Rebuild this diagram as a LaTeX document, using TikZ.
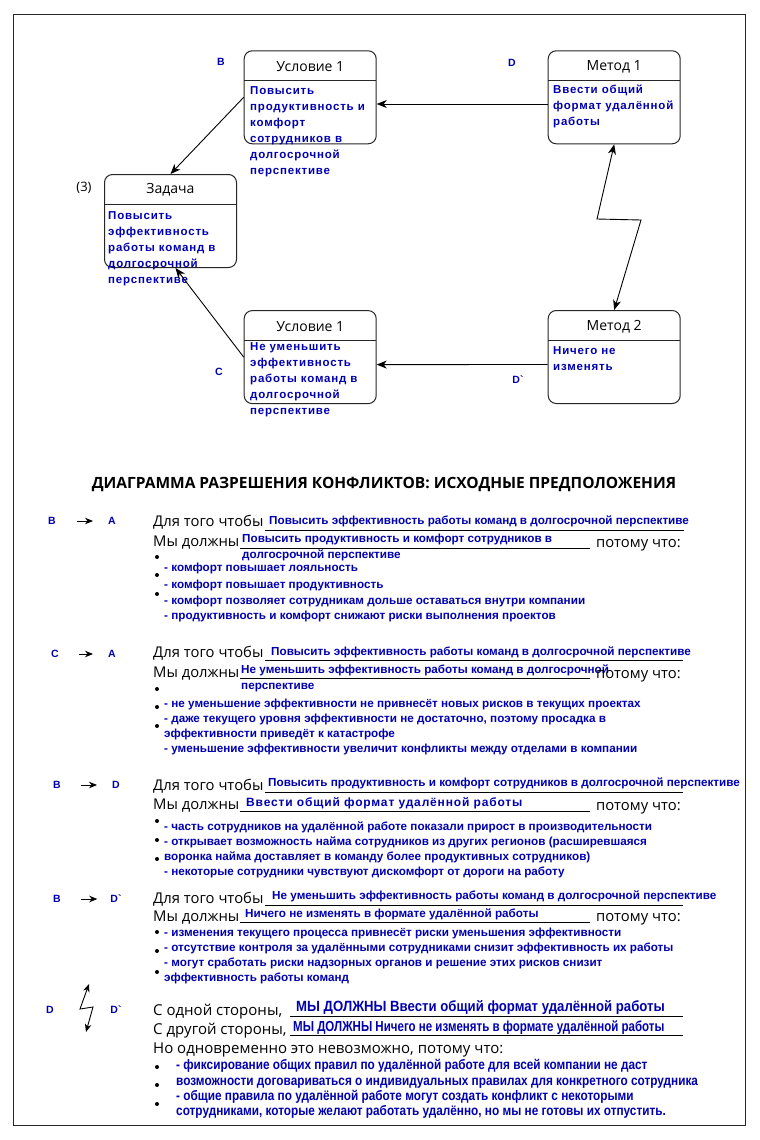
\documentclass[tikz,border=0pt]{standalone}
\usepackage{fontspec}
\usetikzlibrary{arrows.meta}
\setmainfont{Open Sans}
\newfontfamily\blfont{Liberation Sans}
\newfontfamily\blspfont[LetterSpace=7]{Liberation Sans}
\newfontfamily\blnarfont[FakeStretch=0.89]{Liberation Sans}
\newfontfamily\blnarsfont[FakeStretch=0.795]{Liberation Sans}
\newfontfamily\blnarrfont[FakeStretch=0.855]{Liberation Sans}
\definecolor{bl}{RGB}{0,0,175}
\tikzset{
  box/.style={draw=black!85, line width=1pt, rounded corners=8pt, minimum width=132pt, minimum height=93pt, inner sep=0pt},
  divl/.style={draw=black!85, line width=1pt},
  boxtitle/.style={font=\fontsize{14}{16}\selectfont, inner sep=0pt},
  boxtext/.style={text=bl, font=\blspfont\bfseries\fontsize{11.5}{16}\selectfont, align=left, anchor=north west, inner sep=0pt},
  lbl/.style={text=bl, font=\blfont\bfseries\fontsize{10.5}{12}\selectfont, inner sep=0pt},
  blk/.style={font=\fontsize{14.8}{17}\selectfont, anchor=base west, inner sep=0pt},
  blkb/.style={font=\fontsize{15}{17}\selectfont, anchor=base west, inner sep=0pt},
  bt/.style={text=bl, font=\blfont\bfseries\fontsize{11.7}{14}\selectfont, anchor=base west, inner sep=0pt},
  rt/.style={bt},
  btsp/.style={bt, font=\blspfont\bfseries\fontsize{12}{14}\selectfont},
  btn/.style={bt, font=\blnarfont\bfseries\fontsize{14.8}{16}\selectfont},
  btns/.style={bt, font=\blnarsfont\bfseries\fontsize{14.5}{16}\selectfont},
  rtn/.style={bt, font=\blnarrfont\bfseries\fontsize{13.8}{16}\selectfont},
  ul/.style={line width=0.8pt},
  arr/.style={line width=0.9pt, -{Stealth[length=10pt,width=8pt,inset=3pt]}},
  darr/.style={line width=0.9pt, {Stealth[length=10pt,width=8pt,inset=3pt]}-{Stealth[length=10pt,width=8pt,inset=3pt]}},
  sarr/.style={line width=0.9pt, -{Stealth[length=8pt,width=6.5pt,inset=2.5pt]}},
  sdarr/.style={line width=0.9pt, {Stealth[length=8pt,width=6.5pt,inset=2.5pt]}-{Stealth[length=8pt,width=6.5pt,inset=2.5pt]}},
  bul/.style={circle, fill=black, inner sep=0pt, minimum size=4pt},
}
\begin{document}
\begin{tikzpicture}[x=1pt,y=-1pt]
\useasboundingbox (0,0) rectangle (760,1140);
\draw[line width=1pt, black!85] (13,15) rectangle (745,1125);

% ---------- diagram ----------
\node[box] (u1) at (310.2,97.3) {};
\node[box] (m1) at (614.2,97.3) {};
\node[box] (z) at (170.5,221) {};
\node[box] (u2) at (310.2,357.1) {};
\node[box] (m2) at (614.2,357) {};
\draw[divl] (244.2,80.7) -- (376.2,80.7);
\draw[divl] (548.2,80.7) -- (680.2,80.7);
\draw[divl] (104.5,204) -- (236.5,204);
\draw[divl] (244.2,340.5) -- (376.2,340.5);
\draw[divl] (548.2,340.3) -- (680.2,340.3);

\node[boxtitle] (u1t) at (310.2,66.5) {Условие 1};
\node[boxtitle] (m1t) at (614.2,66.5) {Метод 1};
\node[boxtitle] (zt) at (170.5,190) {Задача};
\node[boxtitle] (u2t) at (310.2,326.5) {Условие 1};
\node[boxtitle] (m2t) at (614.2,326.5) {Метод 2};

\node[boxtext] (u1x) at (250,86) {Повысить\\продуктивность и\\комфорт\\сотрудников в\\долгосрочной\\перспективе};
\node[boxtext] (m1x) at (553,85) {Ввести общий\\формат удалённой\\работы};
\node[boxtext] (zx) at (108,211.5) {Повысить\\эффективность\\работы команд в\\долгосрочной\\перспективе};
\node[boxtext] (u2x) at (250,342) {Не уменьшить\\эффективность\\работы команд в\\долгосрочной\\перспективе};
\node[boxtext] (m2x) at (553,346) {Ничего не\\изменять};

\node[lbl] (lB) at (221,62) {B};
\node[lbl] (lD) at (512,63) {D};
\node[lbl] (lC) at (219,372) {C};
\node[lbl] (lD2) at (518,380) {D`};
\node[font=\fontsize{13}{15}\selectfont, inner sep=0pt] (l3) at (84,188) {(3)};

\draw[arr] ([yshift=-6.7pt]m1.west) -- ([yshift=-6.7pt]u1.east);
\draw[arr] (u1.west) -- (z.north);
\draw[arr] (u2.west) -- ([xshift=5pt]z.south);
\draw[arr] ([yshift=-7.5pt]m2.west) -- ([yshift=-7.5pt]u2.east);
\coordinate (k1) at (597,219);
\coordinate (k2) at (641,220);
\draw[darr] (m1.south) -- (k1) -- (k2) -- (m2.north);

% ---------- title ----------
\node[font=\bfseries\fontsize{15.5}{18}\selectfont, inner sep=0pt] (title) at (384,484) {ДИАГРАММА РАЗРЕШЕНИЯ КОНФЛИКТОВ: ИСХОДНЫЕ ПРЕДПОЛОЖЕНИЯ};

% ---------- section 1 ----------
\node[lbl] (aB) at (52,521) {B};
\node[lbl] (aA) at (112,521) {A};
\draw[sarr] ([xshift=21pt]aB.east) -- ([xshift=-15pt]aA.west);
\node[blk] (a1) at (153,526) {Для того чтобы};
\node[bt] (a1v) at (269,524) {Повысить эффективность работы команд в долгосрочной перспективе};
\draw[ul] (265,530) -- (684,530);
\node[blk] (a2) at (153,546) {Мы должны};
\node[bt] (a2v) at (242,542) {Повысить продуктивность и комфорт сотрудников в};
\node[bt] (a2w) at (242,558) {долгосрочной перспективе};
\draw[ul] (240,548) -- (590,548);
\node[blk] (a2p) at (596,547) {потому что:};
\node[bul] (ab1) at (157,557) {};
\node[bul] (ab2) at (157,575) {};
\node[bul] (ab3) at (157,594) {};
\node[rt] (ar1) at (164,571) {- комфорт повышает лояльность};
\node[rt] (ar2) at (164,588) {- комфорт повышает продуктивность};
\node[rt] (ar3) at (164,604) {- комфорт позволяет сотрудникам дольше оставаться внутри компании};
\node[rt] (ar4) at (164,619) {- продуктивность и комфорт снижают риски выполнения проектов};

% ---------- section 2 ----------
\node[lbl] (bC) at (55,654) {C};
\node[lbl] (bA) at (112,654) {A};
\draw[sarr] ([xshift=20pt]bC.east) -- ([xshift=-15pt]bA.west);
\node[blk] (b1) at (153,657) {Для того чтобы};
\node[bt] (b1v) at (271,655) {Повысить эффективность работы команд в долгосрочной перспективе};
\draw[ul] (265,660) -- (683,660);
\node[blk] (b2) at (153,677) {Мы должны};
\node[bt] (b2v) at (241,673) {Не уменьшить эффективность работы команд в долгосрочной};
\node[bt] (b2w) at (241,689) {перспективе};
\draw[ul] (240,678) -- (590,678);
\node[blk] (b2p) at (596,678) {потому что:};
\node[bul] (bb1) at (157,689) {};
\node[bul] (bb2) at (157,707) {};
\node[bul] (bb3) at (157,726) {};
\node[rt] (br1) at (164,707) {- не уменьшение эффективности не привнесёт новых рисков в текущих проектах};
\node[rt] (br2) at (164,722) {- даже текущего уровня эффективности не достаточно, поэтому просадка в};
\node[rt] (br3) at (164,737) {эффективности приведёт к катастрофе};
\node[rt] (br4) at (164,752) {- уменьшение эффективности увеличит конфликты между отделами в компании};

% ---------- section 3 ----------
\node[lbl] (cB) at (57,785) {B};
\node[lbl] (cD) at (116,785) {D};
\draw[sarr] ([xshift=20pt]cB.east) -- ([xshift=-15pt]cD.west);
\node[blk] (c1) at (153,790) {Для того чтобы};
\node[bt] (c1v) at (268,786) {Повысить продуктивность и комфорт сотрудников в долгосрочной перспективе};
\draw[ul] (265,792) -- (683,792);
\node[blk] (c2) at (153,809) {Мы должны};
\node[btsp] (c2v) at (246,806) {Ввести общий формат удалённой работы};
\draw[ul] (240,811) -- (590,811);
\node[blk] (c2p) at (596,810) {потому что:};
\node[bul] (cb1) at (157,821) {};
\node[bul] (cb2) at (157,840) {};
\node[bul] (cb3) at (157,859) {};
\node[rt] (cr1) at (164,830) {- часть сотрудников на удалённой работе показали прирост в производительности};
\node[rt] (cr2) at (164,845) {- открывает возможность найма сотрудников из других регионов (расширевшаяся};
\node[rt] (cr3) at (164,860) {воронка найма доставляет в команду более продуктивных сотрудников)};
\node[rt] (cr4) at (164,875) {- некоторые сотрудники чувствуют дискомфорт от дороги на работу};

% ---------- section 4 ----------
\node[lbl] (dB) at (57,899) {B};
\node[lbl] (dD) at (116,899) {D`};
\draw[sarr] ([xshift=20pt]dB.east) -- ([xshift=-13pt]dD.west);
\node[blk] (d1) at (153,903) {Для того чтобы};
\node[bt] (d1v) at (272,899) {Не уменьшить эффективность работы команд в долгосрочной перспективе};
\draw[ul] (265,905) -- (683,905);
\node[blk] (d2) at (153,921) {Мы должны};
\node[bt] (d2v) at (245,917) {Ничего не изменять в формате удалённой работы};
\draw[ul] (240,922) -- (590,922);
\node[blk] (d2p) at (596,921) {потому что:};
\node[bul] (db1) at (157,932) {};
\node[bul] (db2) at (157,951) {};
\node[bul] (db3) at (157,972) {};
\node[rt] (dr1) at (164,936) {- изменения текущего процесса привнесёт риски уменьшения эффективности};
\node[rt] (dr2) at (164,951) {- отсутствие контроля за удалёнными сотрудниками снизит эффективность их работы};
\node[rt] (dr3) at (164,966) {- могут сработать риски надзорных органов и решение этих рисков снизит};
\node[rt] (dr4) at (164,981) {эффективность работы команд};

% ---------- section 5 ----------
\node[lbl] (eD) at (50,1010) {D};
\node[lbl] (eD2) at (116,1010) {D`};
\coordinate (e0) at (89,984);
\coordinate (e1) at (80,1009);
\coordinate (e2) at (93,1007);
\coordinate (e3) at (86,1032);
\draw[sdarr] (e0) -- (e1) -- (e2) -- (e3);
\node[blkb] (e1t) at (153,1015) {С одной стороны,};
\node[btn] (e1v) at (296,1011) {МЫ ДОЛЖНЫ Ввести общий формат удалённой работы};
\draw[ul] (290,1016) -- (683,1016);
\node[blkb] (e2t) at (153,1034) {С другой стороны,};
\node[btns] (e2v) at (293,1031) {МЫ ДОЛЖНЫ Ничего не изменять в формате удалённой работы};
\draw[ul] (290,1035.5) -- (683,1035.5);
\node[blkb] (e3t) at (153,1053) {Но одновременно это невозможно, потому что:};
\node[bul] (eb1) at (157,1067) {};
\node[bul] (eb2) at (157,1085) {};
\node[bul] (eb3) at (157,1104) {};
\node[rtn] (er1) at (176,1069) {- фиксирование общих правил по удалённой работе для всей компании не даст};
\node[rtn] (er2) at (176,1085) {возможности договариваться о индивидуальных правилах для конкретного сотрудника};
\node[rtn] (er3) at (176,1100) {- общие правила по удалённой работе могут создать конфликт с некоторыми};
\node[rtn] (er4) at (176,1115) {сотрудниками, которые желают работать удалённо, но мы не готовы их отпустить.};
\end{tikzpicture}
\end{document}
